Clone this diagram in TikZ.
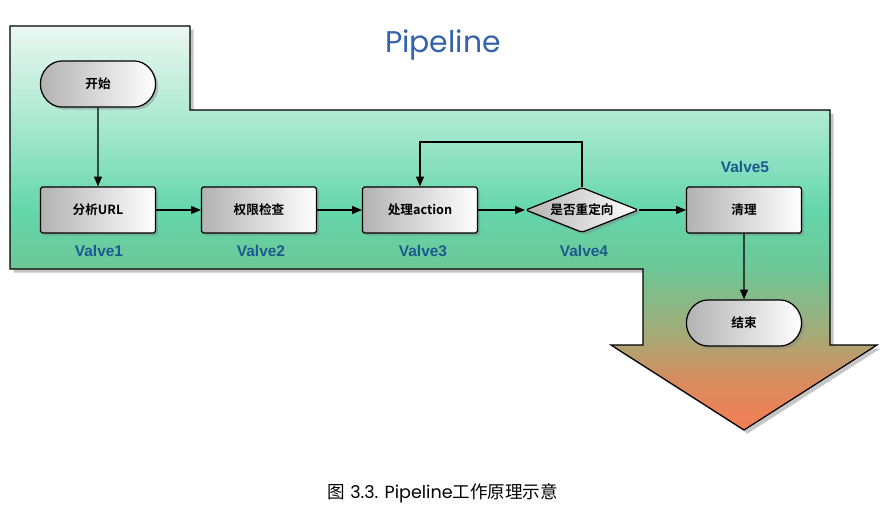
\documentclass[tikz,border=0pt]{standalone}
\usepackage{fontspec}
\setmainfont{Liberation Sans}
\newfontfamily\cjk{Noto Sans CJK SC}[BoldFont={Noto Sans CJK SC Bold}]
\newfontfamily\geo{Poppins}
\usetikzlibrary{shapes.geometric,shapes.misc,shadows,arrows.meta}
\definecolor{titleblue}{RGB}{52,98,172}
\definecolor{valveblue}{RGB}{27,90,142}
\pgfdeclareverticalshading{pipefill}{100bp}{%
  rgb(0bp)=(0.96,0.49,0.33); rgb(25bp)=(0.96,0.49,0.33);
  rgb(31bp)=(0.85,0.55,0.37); rgb(37bp)=(0.64,0.67,0.47);
  rgb(45bp)=(0.43,0.78,0.59); rgb(52bp)=(0.39,0.84,0.67);
  rgb(63bp)=(0.66,0.91,0.82); rgb(75bp)=(0.92,0.97,0.95);
  rgb(100bp)=(0.92,0.97,0.95)}
\begin{document}
\begin{tikzpicture}[x=0.02cm,y=-0.02cm,
    box/.style={draw,line width=0.7pt,rectangle,rounded corners=1pt,
      minimum width=2.3cm,minimum height=0.92cm,
      left color=gray!60,right color=white,
      drop shadow={shadow xshift=1.5pt,shadow yshift=-1.5pt,opacity=0.4},
      font=\cjk\bfseries\fontsize{7.2}{9}\selectfont},
    term/.style={box,rounded rectangle,minimum width=2.54cm},
    test/.style={box,diamond,aspect=2.5,inner sep=0pt,
      minimum width=2.26cm,minimum height=0.9cm},
    valve/.style={text=valveblue,font=\bfseries\fontsize{8.8}{10}\selectfont},
    flow/.style={-{Triangle[length=5.5pt,width=4.5pt]},line width=0.6pt}]
  \useasboundingbox (0,0) rectangle (886,520);
  % the pipe
  \draw[line width=0.7pt,shading=pipefill,
        drop shadow={shadow xshift=2pt,shadow yshift=-2pt,opacity=0.45}]
    (10,26) -- (190,26) -- (190,110) -- (830,110) -- (830,345) -- (877,345)
    -- (744,430) -- (611,345) -- (643,345) -- (643,269) -- (10,269) -- cycle;
  \node (title) [text=titleblue,font=\geo\fontsize{17}{20}\selectfont] at (443,45) {Pipeline};
  % steps
  \node (start) [term] at (98,84) {开始};
  \node (parse) [box] at (98,210) {分析URL};
  \node (auth) [box] at (259,210) {权限检查};
  \node (act) [box] at (420,210) {处理action};
  \node (redir) [test] at (582,210) {是否重定向};
  \node (clean) [box] at (744,210) {清理};
  \node (finish) [term] at (744,323) {结束};
  \node (v1) [valve] at (99,251) {Valve1};
  \node (v2) [valve] at (261,251) {Valve2};
  \node (v3) [valve] at (423,251) {Valve3};
  \node (v4) [valve] at (584,251) {Valve4};
  \node (v5) [valve] at (745,167) {Valve5};
  \coordinate (loop) at (582,142);
  \draw[flow] (start) -- (parse);
  \draw[flow] (parse) -- (auth);
  \draw[flow] (auth) -- (act);
  \draw[flow] (act) -- (redir);
  \draw[flow] (redir) -- (clean);
  \draw[flow] (clean) -- (finish);
  \draw[flow] (redir.north) -- (loop) -| (act.north);
  % caption
  \node (caption) [font=\fontsize{10}{12}\selectfont] at (443,493)
    {{\cjk 图} {\geo 3.3. Pipeline}{\cjk 工作原理示意}};
\end{tikzpicture}
\end{document}
